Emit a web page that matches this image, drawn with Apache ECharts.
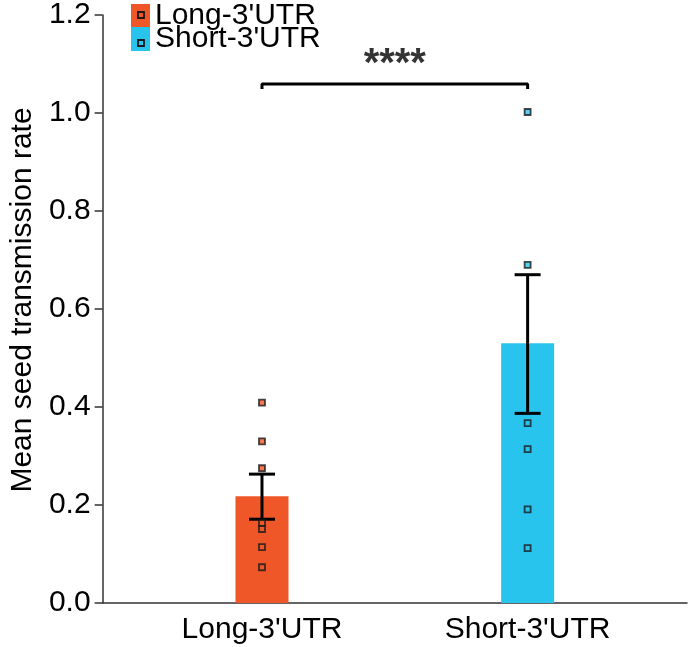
<!DOCTYPE html>
<html>
<head>
<meta charset="utf-8">
<script src="https://cdn.jsdelivr.net/npm/echarts@6/dist/echarts.min.js"></script>
<style>
  html, body { margin: 0; padding: 0; background: #fff; }
  #chart { width: 690px; height: 647px; }
</style>
</head>
<body>
<div id="chart"></div>
<script>
// groups on the x axis (positions 1 and 2)
const groups = ["Long-3'UTR", "Short-3'UTR"];
const colors = ['#F05728', '#29C4EE'];

// bar heights (means)
const means = [0.218, 0.530];
// error bar ends (mean - se, mean + se)
const errLow = [0.171, 0.387];
const errHigh = [0.263, 0.670];

// individual points per group
const longPoints = [0.409, 0.330, 0.275, 0.163, 0.151, 0.114, 0.073];
const shortPoints = [1.002, 0.690, 0.367, 0.314, 0.191, 0.112];

// significance bracket
const bracketTop = 1.059;
const bracketEnd = 1.049;
const starsY = 1.098;
const starsText = '****';

const yTicks = { min: 0, max: 1.2, step: 0.2 };

const font = 'Liberation Sans, Arial, sans-serif';

const chart = echarts.init(document.getElementById('chart'));

const barSeries = groups.map((g, i) => ({
  name: g,
  type: 'bar',
  barWidth: 53,
  barGap: '-100%',
  itemStyle: { color: colors[i] },
  data: [[i + 1, means[i]]],
  z: 2
}));

const pointSeries = [longPoints, shortPoints].map((pts, i) => ({
  type: 'scatter',
  symbol: 'rect',
  symbolSize: 6,
  itemStyle: { color: colors[i], borderColor: '#1a1a1a', borderWidth: 1.8 },
  data: pts.map(v => [i + 1, v]),
  z: 5
}));

chart.setOption({
  animation: false,
  textStyle: { fontFamily: font },
  grid: { left: 96, right: 3, top: 13, bottom: 44 },
  legend: {
    data: groups,
    orient: 'vertical',
    left: 126,
    top: 1,
    padding: [0, 5],
    icon: 'rect',
    itemWidth: 19,
    itemHeight: 24,
    itemGap: -7,
    textStyle: { fontSize: 30, color: '#000', fontFamily: font },
    selectedMode: false
  },
  xAxis: {
    type: 'value',
    min: 0.4,
    max: 2.6,
    splitLine: { show: false },
    axisLine: { show: true, lineStyle: { color: '#333', width: 1.5 } },
    axisTick: { show: false },
    axisLabel: {
      customValues: [1, 2],
      formatter: v => groups[Math.round(v) - 1] || '',
      fontSize: 30,
      color: '#000',
      margin: 12
    }
  },
  yAxis: {
    type: 'value',
    min: yTicks.min,
    max: yTicks.max,
    interval: yTicks.step,
    name: 'Mean seed transmission rate',
    nameLocation: 'middle',
    nameGap: 63,
    nameTextStyle: { fontSize: 30, color: '#000', padding: [0, 0, 0, 18] },
    splitLine: { show: false },
    axisLine: { show: true, lineStyle: { color: '#333', width: 1.5 } },
    axisTick: { show: true, length: 8, lineStyle: { color: '#333', width: 1.5 } },
    axisLabel: {
      formatter: v => v.toFixed(1),
      fontSize: 30,
      color: '#000',
      margin: 12
    }
  },
  graphic: [0, 1].map(i => ({
    type: 'rect',
    shape: { x: 138, y: 12 + i * 28, width: 6, height: 6 },
    style: { fill: colors[i], stroke: '#1a1a1a', lineWidth: 1.8 },
    z: 100
  })),
  series: [
    ...barSeries,
    {
      type: 'custom',
      z: 4,
      renderItem: (params, api) => {
        const x = api.value(0);
        const lo = api.coord([x, api.value(1)]);
        const hi = api.coord([x, api.value(2)]);
        const cap = 13;
        const style = { stroke: '#000', lineWidth: 3 };
        return {
          type: 'group',
          children: [
            { type: 'line', shape: { x1: lo[0], y1: lo[1], x2: hi[0], y2: hi[1] }, style },
            { type: 'line', shape: { x1: lo[0] - cap, y1: lo[1], x2: lo[0] + cap, y2: lo[1] }, style },
            { type: 'line', shape: { x1: hi[0] - cap, y1: hi[1], x2: hi[0] + cap, y2: hi[1] }, style }
          ]
        };
      },
      data: groups.map((g, i) => [i + 1, errLow[i], errHigh[i]])
    },
    ...pointSeries,
    {
      type: 'line',
      symbol: 'none',
      lineStyle: { color: '#000', width: 3 },
      data: [[1, bracketEnd], [1, bracketTop], [2, bracketTop], [2, bracketEnd]],
      z: 6
    },
    {
      type: 'scatter',
      symbolSize: 0,
      label: {
        show: true,
        formatter: starsText,
        fontSize: 40,
        fontWeight: 'bold',
        color: '#000',
        position: 'inside'
      },
      data: [[1.5, starsY]],
      z: 6
    }
  ]
});
</script>
</body>
</html>
